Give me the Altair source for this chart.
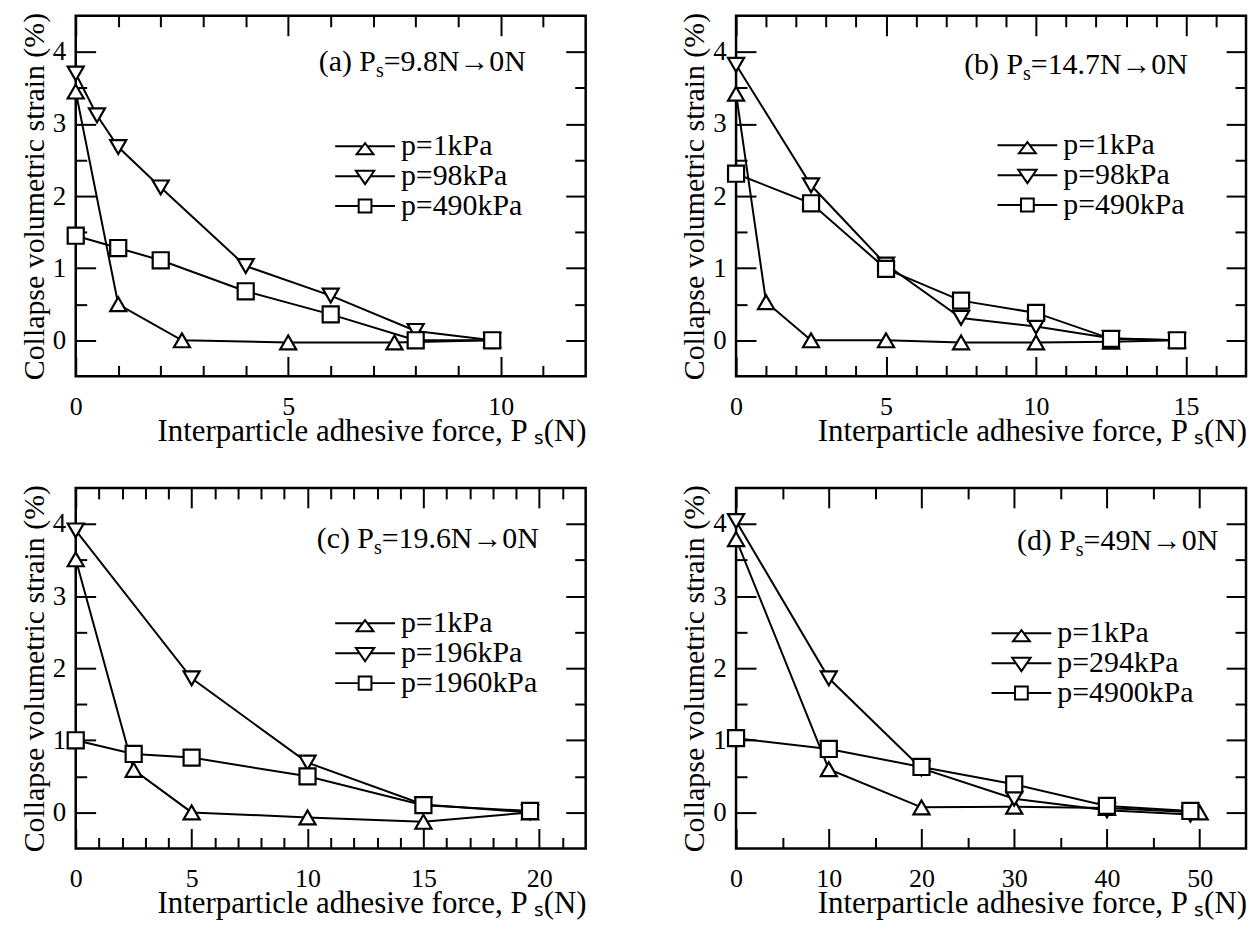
import altair as alt
import pandas as pd

FONT = "Liberation Serif"

# ---------------- data ----------------
# (a) Ps = 9.8N -> 0N
a_names = ["p=1kPa", "p=98kPa", "p=490kPa"]
a_x1 = [0, 1, 2.5, 5, 7.5, 9.8]
a_y1 = [3.45, 0.5, 0.0, -0.03, -0.03, 0.0]
a_x2 = [0, 0.5, 1, 2, 4, 6, 8, 9.8]
a_y2 = [3.7, 3.12, 2.68, 2.12, 1.03, 0.62, 0.13, 0.0]
a_x3 = [0, 1, 2, 4, 6, 8, 9.8]
a_y3 = [1.45, 1.28, 1.11, 0.68, 0.36, 0.0, 0.0]

# (b) Ps = 14.7N -> 0N
b_names = ["p=1kPa", "p=98kPa", "p=490kPa"]
b_x1 = [0, 1, 2.5, 5, 7.5, 10, 12.5, 14.7]
b_y1 = [3.42, 0.53, 0.0, 0.0, -0.03, -0.03, -0.02, 0.0]
b_x2 = [0, 2.5, 5, 7.5, 10, 12.5, 14.7]
b_y2 = [3.82, 2.15, 1.05, 0.31, 0.19, 0.03, 0.0]
b_x3 = [0, 2.5, 5, 7.5, 10, 12.5, 14.7]
b_y3 = [2.31, 1.9, 0.99, 0.55, 0.38, 0.02, 0.0]

# (c) Ps = 19.6N -> 0N
c_names = ["p=1kPa", "p=196kPa", "p=1960kPa"]
c_x1 = [0, 2.5, 5, 10, 15, 19.6]
c_y1 = [3.51, 0.59, 0.0, -0.07, -0.13, 0.0]
c_x2 = [0, 5, 10, 15, 19.6]
c_y2 = [3.91, 1.86, 0.69, 0.11, 0.0]
c_x3 = [0, 2.5, 5, 10, 15, 19.6]
c_y3 = [1.0, 0.81, 0.76, 0.5, 0.1, 0.02]

# (d) Ps = 49N -> 0N
d_names = ["p=1kPa", "p=294kPa", "p=4900kPa"]
d_x1 = [0, 10, 20, 30, 40, 50]
d_y1 = [3.79, 0.6, 0.07, 0.08, 0.06, 0.0]
d_x2 = [0, 10, 20, 30, 40, 49]
d_y2 = [4.04, 1.86, 0.61, 0.19, 0.03, -0.03]
d_x3 = [0, 10, 20, 30, 40, 49]
d_y3 = [1.03, 0.88, 0.63, 0.39, 0.09, 0.02]

y_major = [0, 1, 2, 3, 4]
y_minor = [0.5, 1.5, 2.5, 3.5]

X_TITLE = "Interparticle adhesive force, P\u2009\u209b(N)"
Y_TITLE = "Collapse volumetric strain (%)"

# legend symbols: connecting line plus marker
LEG_PATHS = [
    "M-3.75,0L-0.3,0M0.3,0L3.75,0M0,-0.4L1.06,1.0L-1.06,1.0Z",
    "M-3.75,0L-0.69,0M0.69,0L3.75,0M-1.15,-0.67L1.15,-0.67L0,1.0Z",
    "M-3.75,0L-0.8,0M0.8,0L3.75,0M-0.8,-0.82L0.8,-0.82L0.8,0.82L-0.8,0.82Z",
]

W, H = 512, 362


def tick_axis(orient, values, size, labels=False, title=None, **kw):
    args = dict(orient=orient, values=values, tickSize=size, offset=-size,
                domain=False, grid=False, labels=labels, ticks=True,
                tickWidth=2, tickColor="black", labelFont=FONT, titleFont=FONT,
                labelColor="black", titleColor="black", titleFontWeight="normal",
                minExtent=0)
    args["title"] = title
    args.update(kw)
    return alt.Axis(**args)


def panel(names, xs_list, ys_list, xmax, xmajor, xminor, tag, value, leg_xy, ann_xy):
    rows = []
    for name, xs, ys in zip(names, xs_list, ys_list):
        for x, y in zip(xs, ys):
            rows.append({"series": name, "x": x, "y": y})
    df = pd.DataFrame(rows)
    base = alt.Chart(df)
    xsc = alt.Scale(domain=[0, xmax], nice=False, zero=False)
    ysc = alt.Scale(domain=[-0.5, 4.5], nice=False, zero=False)

    x_bottom = tick_axis("bottom", xmajor, 20, labels=True, title=X_TITLE,
                         labelFontSize=26, labelPadding=17, labelFlush=False,
                         labelOverlap=False, titleFontSize=31, titlePadding=-3,
                         titleX=297)
    y_left = tick_axis("left", y_major, 20, labels=True, title=Y_TITLE,
                       labelFontSize=27, labelPadding=10, labelFlush=False,
                       titleFontSize=30, titlePadding=3)

    lines = base.mark_line(color="black", strokeWidth=2).encode(
        x=alt.X("x:Q", scale=xsc, axis=x_bottom),
        y=alt.Y("y:Q", scale=ysc, axis=y_left),
        detail="series:N",
    )
    pts = base.mark_point(filled=True, fill="white", stroke="black",
                          strokeWidth=2.2, opacity=1).encode(
        x=alt.X("x:Q", scale=xsc, axis=tick_axis("bottom", xminor, 11)),
        y=alt.Y("y:Q", scale=ysc, axis=tick_axis("left", y_minor, 11)),
        shape=alt.Shape("series:N", scale=alt.Scale(domain=names,
                        range=["triangle-up", "triangle-down", "square"]), legend=None),
        size=alt.Size("series:N", scale=alt.Scale(domain=names, range=[260, 260, 215]),
                      legend=None),
    )
    top1 = base.mark_point(opacity=0).encode(
        x=alt.X("x:Q", scale=xsc, axis=tick_axis("top", xmajor, 20)),
        y=alt.Y("y:Q", scale=ysc, axis=tick_axis("right", y_major, 20)),
    )
    top2 = base.mark_point(opacity=0).encode(
        x=alt.X("x:Q", scale=xsc, axis=tick_axis("top", xminor, 11)),
        y=alt.Y("y:Q", scale=ysc, axis=tick_axis("right", y_minor, 11)),
    )
    leg = base.transform_filter("false").mark_point(
        filled=False, stroke="black", strokeWidth=2, opacity=1).encode(
        shape=alt.Shape("series:N", scale=alt.Scale(domain=names, range=LEG_PATHS),
                        legend=alt.Legend(orient="none", legendX=leg_xy[0] - 12.5,
                                          legendY=leg_xy[1] - 15,
                                          title=None, labelFont=FONT, labelFontSize=30,
                                          labelColor="black", symbolSize=256,
                                          symbolStrokeWidth=2, symbolFillColor="white",
                                          symbolStrokeColor="black", symbolOpacity=1,
                                          labelOffset=21, rowPadding=0, padding=0)),
    )
    one = pd.DataFrame({"k": [0]})
    ax, ay = ann_xy
    fs, ss = 30, 20
    head = f"({tag}) P"
    head_w = fs * (0.333 + {"a": 0.444, "b": 0.5, "c": 0.444, "d": 0.5}[tag] + 0.333 + 0.25 + 0.556)
    t1 = alt.Chart(one).mark_text(font=FONT, fontSize=fs, align="left", baseline="alphabetic",
                                  color="black").encode(
        x=alt.value(ax), y=alt.value(ay), text=alt.value(head))
    t2 = alt.Chart(one).mark_text(font=FONT, fontSize=ss, align="left", baseline="alphabetic",
                                  color="black").encode(
        x=alt.value(ax + head_w), y=alt.value(ay + 6), text=alt.value("s"))
    t3 = alt.Chart(one).mark_text(font=FONT, fontSize=fs, align="left", baseline="alphabetic",
                                  color="black").encode(
        x=alt.value(ax + head_w + ss * 0.389), y=alt.value(ay), text=alt.value(value))

    return alt.layer(lines, pts, top1, top2, leg, t1, t2, t3).resolve_axis(
        x="independent", y="independent").resolve_scale(
        shape="independent", size="independent").properties(width=W, height=H)


pa = panel(a_names, [a_x1, a_x2, a_x3], [a_y1, a_y2, a_y3], 12, [0, 5, 10],
           [1, 2, 3, 4, 6, 7, 8, 9, 11], "a", "=9.8N\u21920N", (288, 131), (244, 55))
pb = panel(b_names, [b_x1, b_x2, b_x3], [b_y1, b_y2, b_y3], 17, [0, 5, 10, 15],
           [1, 2, 3, 4, 6, 7, 8, 9, 11, 12, 13, 14, 16], "b", "=14.7N\u21920N", (290, 130), (229, 58))
pc = panel(c_names, [c_x1, c_x2, c_x3], [c_y1, c_y2, c_y3], 22, [0, 5, 10, 15, 20],
           [1, 2, 3, 4, 6, 7, 8, 9, 11, 12, 13, 14, 16, 17, 18, 19, 21], "c", "=19.6N\u21920N",
           (288, 136), (242, 60))
pd_ = panel(d_names, [d_x1, d_x2, d_x3], [d_y1, d_y2, d_y3], 55, [0, 10, 20, 30, 40, 50],
            [5, 15, 25, 35, 45], "d", "=49N\u21920N", (284, 146), (282, 62))

chart = alt.concat(
    pa, pb, pc, pd_, columns=2, spacing={"row": 112, "column": 151}, bounds="flush",
).resolve_scale(shape="independent", size="independent").properties(
    padding={"left": 10, "top": 1, "right": 0, "bottom": 0}, background="white"
).configure_view(stroke="black", strokeWidth=2.5).configure_axis(
    labelFont=FONT, titleFont=FONT
).configure_legend(labelFont=FONT)

chart.save("out.html", embed_options={"renderer": "svg", "actions": False})
